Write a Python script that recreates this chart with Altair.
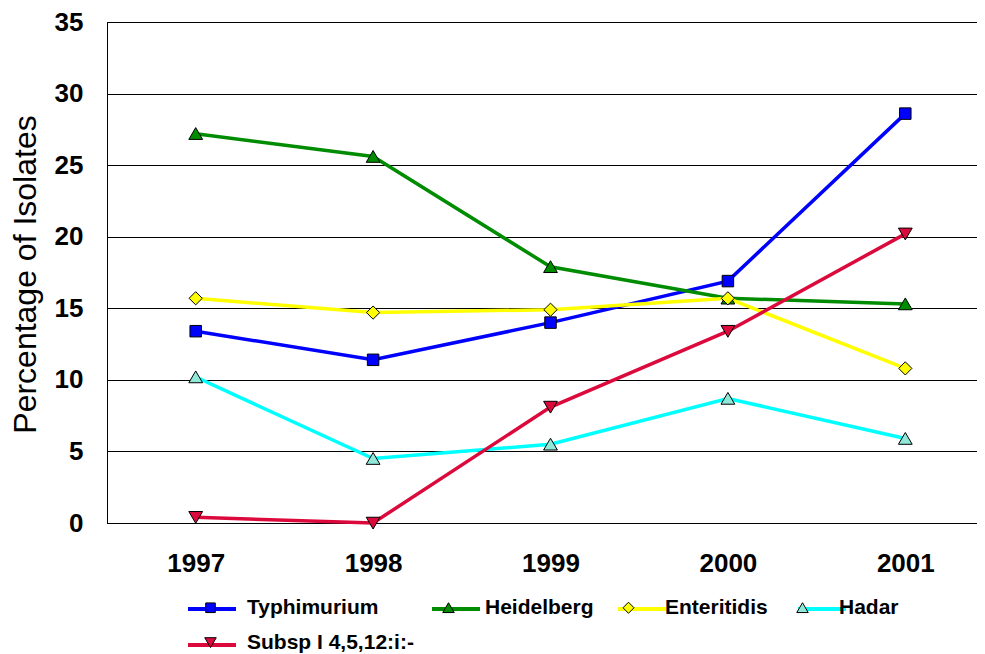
import altair as alt
import pandas as pd

years = ["1997", "1998", "1999", "2000", "2001"]
series_names = ["Typhimurium", "Heidelberg", "Enteritidis", "Hadar", "Subsp I 4,5,12:i:-"]
typhimurium = [13.4, 11.4, 14.0, 16.9, 28.6]
heidelberg = [27.2, 25.6, 17.9, 15.7, 15.3]
enteritidis = [15.7, 14.7, 14.9, 15.7, 10.8]
hadar = [10.2, 4.5, 5.5, 8.7, 5.9]
subsp = [0.4, 0.0, 8.1, 13.4, 20.2]
line_colors = ["#0000FF", "#008C00", "#FFFF00", "#00FFFF", "#DC0A3C"]
marker_fills = ["#0000FF", "#008C00", "#FFFF00", "#8FE8D8", "#DC0A3C"]
y_ticks = [0, 5, 10, 15, 20, 25, 30, 35]

# marker outlines as custom symbol paths (square, triangle-up, diamond, triangle-up, triangle-down)
marker_paths = [
    "M-0.2,-0.2H0.2V0.2H-0.2Z",
    "M0,-0.21L0.24,0.2L-0.24,0.2Z",
    "M0,-0.23L0.23,0L0,0.23L-0.23,0Z",
    "M0,-0.21L0.24,0.2L-0.24,0.2Z",
    "M0,0.21L0.24,-0.2L-0.24,-0.2Z",
]

all_values = [typhimurium, heidelberg, enteritidis, hadar, subsp]
rows = []
for name, vals in zip(series_names, all_values):
    for yr, v in zip(years, vals):
        rows.append({"year": yr, "value": v, "series": name, "Series": name})
df = pd.DataFrame(rows)

FONT = "Arial, Liberation Sans, Helvetica, sans-serif"

legend_common = dict(
    orient="none",
    legendX=79,
    legendY=561,
    direction="horizontal",
    columns=4,
    columnPadding=10,
    rowPadding=-11,
    padding=0,
    title=None,
    symbolSize=2304,
    labelFont=FONT,
    labelFontSize=21,
    labelFontWeight="bold",
    labelColor="black",
    labelLimit=400,
    labelBaseline="middle",
)

x_enc = alt.X(
    "year:O",
    title=None,
    axis=alt.Axis(
        labelAngle=0,
        labelFont=FONT,
        labelFontSize=26,
        labelFontWeight="bold",
        labelColor="black",
        labelPadding=27,
        ticks=False,
        domain=True,
        domainColor="black",
        domainWidth=1,
        grid=False,
    ),
)
y_enc = alt.Y(
    "value:Q",
    scale=alt.Scale(domain=[0, 35], nice=False, zero=True),
    axis=alt.Axis(
        values=y_ticks,
        title="Percentage of Isolates",
        titleFont=FONT,
        titleFontSize=32,
        titleFontWeight="normal",
        titleColor="black",
        titleAngle=270,
        titleAlign="center",
        titleBaseline="alphabetic",
        titleX=-72,
        titleY=252,
        labelFont=FONT,
        labelFontSize=26,
        labelFontWeight="bold",
        labelColor="black",
        labelPadding=24,
        ticks=False,
        domain=True,
        domainColor="black",
        grid=True,
        gridColor="black",
        gridWidth=1,
    ),
)

lines = alt.Chart(df).mark_line(strokeWidth=3.5).encode(
    x=x_enc,
    y=y_enc,
    color=alt.Color(
        "series:N",
        sort=series_names,
        scale=alt.Scale(domain=series_names, range=line_colors),
        legend=alt.Legend(
            symbolType="M-1,0L1,0",
            symbolStrokeWidth=4,
            labelOffset=9,
            labelOpacity=0,
            **legend_common,
        ),
    ),
)

points = alt.Chart(df).mark_point(
    filled=True, size=3300, stroke="black", strokeWidth=1, opacity=1
).encode(
    x=alt.X("year:O"),
    y=alt.Y("value:Q"),
    fill=alt.Fill(
        "Series:N",
        sort=series_names,
        scale=alt.Scale(range=marker_fills),
        legend=alt.Legend(
            symbolStrokeColor="black",
            symbolStrokeWidth=1,
            labelOffset=12,
            symbolType={"expr": "scale('shape', datum.value)"},
            **legend_common,
        ),
    ),
    shape=alt.Shape(
        "Series:N",
        sort=series_names,
        scale=alt.Scale(range=marker_paths),
        legend=None,
    ),
)

chart = (
    alt.layer(lines, points)
    .properties(
        width=887,
        height=501,
        autosize=alt.AutoSizeParams(type="none"),
        padding={"left": 99, "top": 14, "right": -17, "bottom": 131},
        background="white",
    )
    .configure_view(stroke="black", strokeWidth=1)
)

chart.save("out.html", embed_options={"renderer": "svg", "actions": False})
